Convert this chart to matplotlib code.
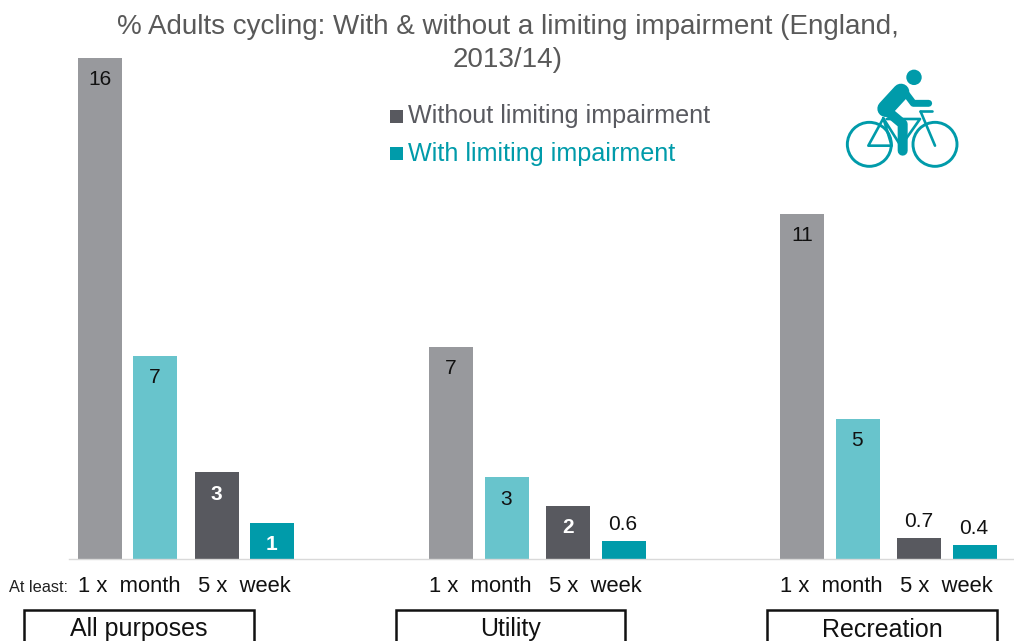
import matplotlib
matplotlib.use("Agg")
import matplotlib.pyplot as plt
from matplotlib.patches import Rectangle, Circle, Polygon

plt.rcParams['font.family'] = ['Liberation Sans', 'DejaVu Sans']

groups = ["All purposes", "Utility", "Recreation"]
values = [[16.7, 6.77, 2.9, 1.2], [7.07, 2.73, 1.77, 0.6], [11.5, 4.67, 0.7, 0.47]]
labels = [["16", "7", "3", "1"], ["7", "3", "2", "0.6"], ["11", "5", "0.7", "0.4"]]
freq_labels = ["1 x  month", "5 x  week"]
series_colors = ["#98999D", "#68C4CC", "#58595F", "#009BAA"]
label_colors = ["#111111", "#111111", "white", "white"]
legend_names = ["Without limiting impairment", "With limiting impairment"]
legend_colors = ["#58595F", "#009BAA"]
title_lines = ["% Adults cycling: With & without a limiting impairment (England,", "2013/14)"]

W, H = 1014, 641
fig = plt.figure(figsize=(W/100, H/100), dpi=100)
ax = fig.add_axes([69/W, 1-559/H, 1-69/W, 559/H])
ax.set_xlim(69, W)
ax.set_ylim(0, 559/30)
for s in ["top", "left", "right"]:
    ax.spines[s].set_visible(False)
ax.spines["bottom"].set_color("#D9D9D9")
ax.spines["bottom"].set_linewidth(1.0)
ax.set_xticks([]); ax.set_yticks([])

group_start = [100, 451.3, 802.3]
offsets = [0, 55.2, 117, 172.2]
bar_w = 44
for g, g0 in enumerate(group_start):
    for i, off in enumerate(offsets):
        v = values[g][i]
        x = g0 + off
        ax.bar(x, v, width=bar_w, color=series_colors[i], linewidth=0)
        lab = labels[g][i]
        if v < 1:
            ax.text(x - 1, v + 7/30, lab, ha="center", va="bottom", fontsize=15, color="#111111")
        else:
            ax.text(x - 0.5, v - 22/30, lab, ha="center", va="center", fontsize=15,
                    color=label_colors[i], fontweight="bold" if i >= 2 else "normal")

ov = fig.add_axes([0, 0, 1, 1])
ov.set_xlim(0, W); ov.set_ylim(H, 0); ov.axis("off"); ov.patch.set_alpha(0)

for line, y in zip(title_lines, [27, 60]):
    ov.text(508, y, line, ha="center", va="center", fontsize=20, color="#595959")

ov.text(9, 587.5, "At least:", ha="left", va="center", fontsize=11.8, color="#222222")
for g0 in group_start:
    ov.text(g0 + 29, 586.5, freq_labels[0], ha="center", va="center", fontsize=15.8, color="#111111")
    ov.text(g0 + 144.5, 586.5, freq_labels[1], ha="center", va="center", fontsize=15.8, color="#111111")

box_x = [(24, 254), (396, 625), (767, 997)]
box_text_y = [629, 629, 630]
for name, (x0, x1), ty in zip(groups, box_x, box_text_y):
    ov.plot([x0, x0, x1, x1], [645, 610, 610, 645], color="#111111", lw=1.8, solid_joinstyle="miter")
    ov.text((x0+x1)/2, ty, name, ha="center", va="center", fontsize=18, color="#111111")

for name, c, y, tc in zip(legend_names, legend_colors, [116.5, 153.5], ["#595A60", "#009BAA"]):
    ov.add_patch(Rectangle((390, y-7), 13, 13, color=c, lw=0))
    ov.text(408, y, name, ha="left", va="center", fontsize=18.1, color=tc)

# bicycle icon
t = "#009BAA"
def X(z): return 820 + z/3
def Y(z): return 50 + z/3
def seg(pts, w=1.9):
    ov.plot([X(a) for a, b in pts], [Y(b) for a, b in pts], color=t, lw=w,
            solid_capstyle="round", solid_joinstyle="round")
for zx in (148, 345):
    ov.add_patch(Circle((X(zx), Y(283)), 22, fill=False, ec=t, lw=2.1))
ov.add_patch(Circle((X(282), Y(82)), 7.7, color=t, lw=0))
seg([(243,126),(197,176)], 12)                # torso
seg([(198,180),(248,222),(248,302)], 7.2)     # thigh and shin
seg([(250,120),(280,160),(326,160)], 5)       # arm
seg([(190,205),(145,287),(215,287),(190,205),(245,292)])
seg([(200,207),(300,207),(240,292)])
seg([(302,185),(345,287)])
seg([(300,183),(335,183)])

fig.savefig("out.png", dpi=100)
